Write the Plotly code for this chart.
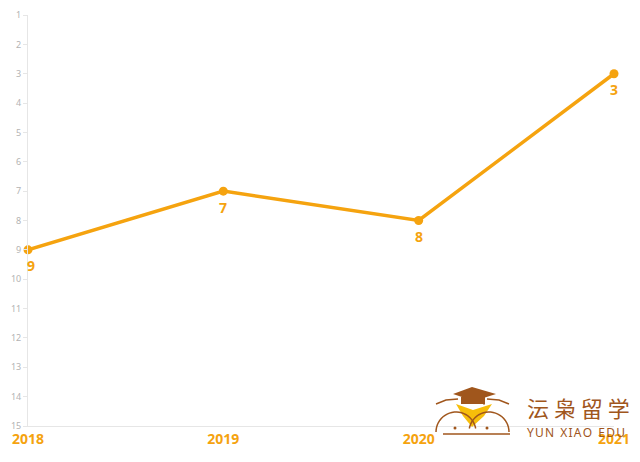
import math
import plotly.graph_objects as go

years = ["2018", "2019", "2020", "2021"]
ranks = [9, 7, 8, 3]
y_ticks = list(range(1, 16))

ORANGE = "#F5A30F"
BROWN = "#A0561C"
YELLOW = "#F7BE0A"

W, H = 640, 462
L, R, T, B = 28, 26, 15, 36
pw, ph = W - L - R, H - T - B

def px(x):
    return (x - L) / pw

def py(y):
    return (H - B - y) / ph

xs = list(range(len(years)))

fig = go.Figure()
fig.add_trace(go.Scatter(
    x=xs, y=ranks, mode="lines+markers",
    line=dict(color=ORANGE, width=3.5),
    marker=dict(color=ORANGE, size=9),
    cliponaxis=False, hoverinfo="skip", showlegend=False,
))

def path(points, close=True):
    s = "M " + " L ".join(f"{px(x):.5f},{py(y):.5f}" for x, y in points)
    return s + (" Z" if close else "")

def arc(cx, cy, r, a0, a1, n=24):
    pts = []
    for i in range(n + 1):
        a = math.radians(a0 + (a1 - a0) * i / n)
        pts.append((cx + r * math.cos(a), cy - r * math.sin(a)))
    return pts

shapes = []
# graduation cap
shapes.append(dict(type="path", xref="paper", yref="paper",
                   path=path([(453, 394), (472, 387), (496, 394), (474, 401)]),
                   fillcolor=BROWN, line=dict(width=0)))
shapes.append(dict(type="path", xref="paper", yref="paper",
                   path=path([(461, 397), (485, 397), (485, 404), (461, 404)]),
                   fillcolor=BROWN, line=dict(width=0)))
shapes.append(dict(type="line", xref="paper", yref="paper",
                   x0=px(484), y0=py(395), x1=px(484), y1=py(405),
                   line=dict(color=BROWN, width=1)))
# yellow face
shapes.append(dict(type="path", xref="paper", yref="paper",
                   path=path([(456, 404), (473, 410), (492, 404), (484, 416), (472, 427), (463, 416)]),
                   fillcolor=YELLOW, line=dict(width=0)))
# eyes / outline arcs
shapes.append(dict(type="path", xref="paper", yref="paper",
                   path=path(arc(456, 432, 20, 180, 10), close=False),
                   line=dict(color=BROWN, width=1.5)))
shapes.append(dict(type="path", xref="paper", yref="paper",
                   path=path(arc(489, 432, 20, 170, 0), close=False),
                   line=dict(color=BROWN, width=1.5)))
shapes.append(dict(type="path", xref="paper", yref="paper",
                   path=path([(436, 404), (446, 400), (458, 399)], close=False),
                   line=dict(color=BROWN, width=1.5)))
shapes.append(dict(type="path", xref="paper", yref="paper",
                   path=path([(509, 404), (499, 400), (487, 399)], close=False),
                   line=dict(color=BROWN, width=1.5)))
shapes.append(dict(type="line", xref="paper", yref="paper",
                   x0=px(443), y0=py(434), x1=px(510), y1=py(434),
                   line=dict(color=BROWN, width=1.5)))
for cx in (455, 487):
    shapes.append(dict(type="circle", xref="paper", yref="paper",
                       x0=px(cx - 1.5), y0=py(429.5), x1=px(cx + 1.5), y1=py(426.5),
                       fillcolor=BROWN, line=dict(width=0)))

hair = "\u200a"
logo_en = "\u00a0\u00a0".join(hair.join(w) for w in ["YUN", "XIAO", "EDU"])

annotations = [
    dict(x=px(525), y=py(407), xref="paper", yref="paper", xanchor="left", yanchor="middle",
         text="沄 枭 留 学", showarrow=False,
         font=dict(size=22, color=BROWN, family="Noto Sans CJK SC")),
    dict(x=px(525), y=py(432), xref="paper", yref="paper", xanchor="left", yanchor="middle",
         text=logo_en, showarrow=False,
         font=dict(size=12, color=BROWN, family="Noto Sans")),
]
for x, v in zip(xs, ranks):
    annotations.append(dict(x=x, y=v, xref="x", yref="y", text=str(v), showarrow=False,
                            yshift=-16, xshift=3 if x == 0 else 0,
                            font=dict(color=ORANGE, size=14, family="Noto Sans", weight="bold")))

fig.update_layout(
    width=W, height=H, margin=dict(l=L, r=R, t=T, b=B, autoexpand=False),
    paper_bgcolor="white", plot_bgcolor="white",
    shapes=shapes, annotations=annotations,
    xaxis=dict(tickmode="array", tickvals=xs, ticktext=years, automargin=False,
               range=[0, len(years) - 1], showgrid=False, zeroline=False,
               showline=True, linecolor="#e6e6e6", linewidth=1, ticks="",
               tickfont=dict(color=ORANGE, size=14, family="Noto Sans", weight="bold")),
    yaxis=dict(tickmode="array", tickvals=y_ticks, ticktext=[str(v) for v in y_ticks],
               range=[15, 1], showgrid=False, zeroline=False, automargin=False,
               showline=True, linecolor="#e6e6e6", linewidth=1,
               ticks="outside", ticklen=4, tickcolor="#e6e6e6",
               tickfont=dict(color="#b3b3b3", size=9, family="Noto Sans")),
)

fig.write_html("out.html", config={"displayModeBar": False},
               post_script="document.body.style.margin='0';document.body.style.overflow='hidden';")
